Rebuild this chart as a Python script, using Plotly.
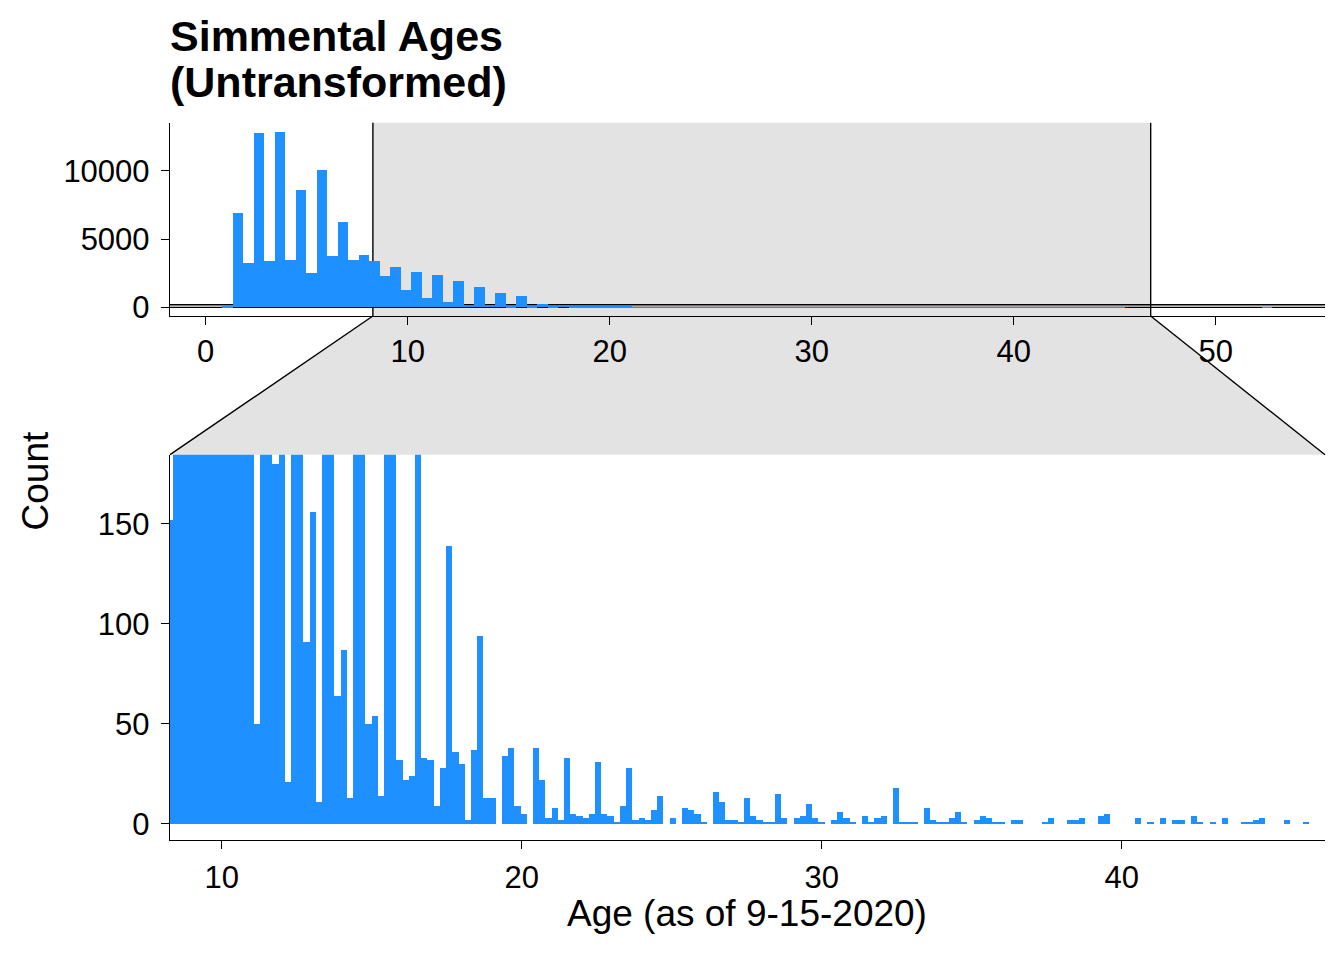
import plotly.graph_objects as go

# ── top panel: whole age range, 100 bins ─────────────────────────
TOP_START = 0.817      # left edge of first bin (years)
TOP_BW = 0.5198
TOP_COUNTS = [
    30, 6960, 3240, 12800, 3380, 12880, 3455, 8640, 2510, 10100,
    3770, 6230, 3455, 3845, 3380, 2290, 2944, 1265, 2580, 681,
    2360, 390, 1922, 200, 1484, 150, 1046, 110, 827, 80,
    243, 70, 170, 60, 97, 55, 40, 35, 30, 25,
    20, 12, 10, 15, 12, 15, 8, 22, 10, 12,
    10, 15, 8, 8, 20, 5, 8, 6, 10, 4,
    5, 5, 4, 3, 3, 2, 3, 5, 2, 3,
    2, 7, 3, 3, 2, 2, 1, 3, 3, 2,
    1, 5, 2, 1, 3, 1, 0, 0, 0, 0,
    0, 0, 0, 0, 0, 0, 0, 0, 0, 1,
]

# ── zoom panel: finer bins ───────────────────────────────────────
ZOOM_START = 8.1704
ZOOM_BW = 0.2069
ZOOM_COUNTS = [
    152, 1300, 600, 500, 800, 1300, 1300, 500, 300, 450,
    1200, 1200, 300, 250,
    50, 1050, 1050, 180, 400, 21, 890, 890, 91, 156,
    11, 675, 675, 64, 87, 13, 475, 475, 50, 54,
    14, 370, 370, 32, 22, 24, 200, 33, 32, 9,
    28, 139, 36, 30, 2, 37, 94, 13, 13, 0,
    34, 38, 9, 5, 0, 38, 22, 3, 8, 2,
    33, 5, 4, 3, 5, 31, 5, 4, 1, 9,
    28, 2, 3, 2, 7, 14, 0, 3, 0, 8,
    7, 5, 1, 0, 16, 11, 2, 2, 1, 13,
    4, 2, 1, 1, 15, 3, 0, 3, 4, 10,
    3, 1, 0, 2, 6, 3, 1, 0, 4, 1,
    3, 4, 0, 18, 1, 1, 1, 0, 8, 2,
    1, 1, 3, 6, 1, 0, 2, 4, 3, 1,
    1, 0, 2, 2, 0, 0, 0, 1, 3, 0,
    0, 2, 2, 3, 0, 0, 4, 5, 0, 0,
    0, 0, 3, 0, 1, 0, 3, 0, 2, 2,
    0, 4, 1, 0, 1, 0, 3, 0, 0, 1,
    1, 2, 3, 0, 0, 0, 2, 0, 0, 1,
    0, 0, 0,
]

TOP_XTICKS = [0, 10, 20, 30, 40, 50]
TOP_YTICKS = [0, 5000, 10000]
ZOOM_XTICKS = [10, 20, 30, 40]
ZOOM_YTICKS = [0, 50, 100, 150]

ZOOM_X = [8.277, 46.78]
ZOOM_Y = [-8.07, 184.5]
TOP_XRANGE = [-1.767, 55.41]
TOP_YRANGE = [-644, 13524]

W, H = 1344, 960
BLUE = '#1E90FF'
GREY = '#E3E3E3'
FONT = 'Liberation Sans, Arial, sans-serif'

# domains (paper fractions)
X_DOM = [170 / W, 1325 / W]
TOP_DOM = [1 - 319 / H, 1 - 124 / H]
ZOOM_DOM = [1 - 848 / H, 1 - 459 / H]


def to_paper(v, rng, dom):
    return dom[0] + (v - rng[0]) / (rng[1] - rng[0]) * (dom[1] - dom[0])


top_x = [TOP_START + TOP_BW * (i + 0.5) for i in range(len(TOP_COUNTS))]
zoom_x = [ZOOM_START + ZOOM_BW * (i + 0.5) for i in range(len(ZOOM_COUNTS))]

fig = go.Figure()
fig.add_trace(go.Bar(
    x=top_x, y=TOP_COUNTS, width=TOP_BW,
    marker=dict(color=BLUE, line=dict(width=0)),
    xaxis='x', yaxis='y', showlegend=False,
))
fig.add_trace(go.Bar(
    x=zoom_x, y=ZOOM_COUNTS, width=ZOOM_BW,
    marker=dict(color=BLUE, line=dict(width=0)),
    xaxis='x2', yaxis='y2', showlegend=False,
))

axis_common = dict(
    showgrid=False, zeroline=False, showline=True,
    linecolor='black', linewidth=1.4,
    ticks='outside', ticklen=8, tickwidth=1.4, tickcolor='black',
    tickfont=dict(family=FONT, size=31, color='black'),
    tickformat='d', fixedrange=True,
)

# ── zoom indicator ───────────────────────────────────────────────
shapes = []
# x band in top panel
shapes.append(dict(type='rect', xref='x', yref='y domain',
                   x0=ZOOM_X[0], x1=ZOOM_X[1], y0=0, y1=1,
                   fillcolor=GREY, line=dict(width=0), layer='below'))
for xv in ZOOM_X:
    shapes.append(dict(type='line', xref='x', yref='y domain',
                       x0=xv, x1=xv, y0=0, y1=1,
                       line=dict(color='black', width=1.4), layer='below'))
# y band in top panel
for yv in ZOOM_Y:
    shapes.append(dict(type='line', xref='x domain', yref='y',
                       x0=0, x1=1, y0=yv, y1=yv,
                       line=dict(color='black', width=1.4), layer='below'))

# connector between panels
tl = to_paper(ZOOM_X[0], TOP_XRANGE, X_DOM)
tr = to_paper(ZOOM_X[1], TOP_XRANGE, X_DOM)
ty = TOP_DOM[0]
bl, br, by = X_DOM[0], X_DOM[1], ZOOM_DOM[1]
shapes.append(dict(type='path', xref='paper', yref='paper',
                   path=f'M {tl},{ty} L {tr},{ty} L {br},{by} L {bl},{by} Z',
                   fillcolor=GREY, line=dict(width=0), layer='below'))
shapes.append(dict(type='line', xref='paper', yref='paper',
                   x0=tl, y0=ty, x1=bl, y1=by,
                   line=dict(color='black', width=1.4), layer='below'))
shapes.append(dict(type='line', xref='paper', yref='paper',
                   x0=tr, y0=ty, x1=br, y1=by,
                   line=dict(color='black', width=1.4), layer='below'))

annotations = [
    dict(text='<b>Simmental Ages</b>', xref='paper', yref='paper',
         x=168 / W, y=1 - 36 / H, xanchor='left', yanchor='middle',
         showarrow=False, font=dict(family=FONT, size=43, color='black')),
    dict(text='<b>(Untransformed)</b>', xref='paper', yref='paper',
         x=168 / W, y=1 - 83 / H, xanchor='left', yanchor='middle',
         showarrow=False, font=dict(family=FONT, size=43, color='black')),
    dict(text='Count', xref='paper', yref='paper',
         x=35 / W, y=1 - 486 / H, xanchor='center', yanchor='middle',
         textangle=-90, showarrow=False,
         font=dict(family=FONT, size=37, color='black')),
    dict(text='Age (as of 9-15-2020)', xref='paper', yref='paper',
         x=747 / W, y=1 - 922 / H, xanchor='center', yanchor='middle',
         showarrow=False, font=dict(family=FONT, size=37, color='black')),
]

fig.update_layout(
    width=W, height=H,
    margin=dict(l=0, r=0, t=0, b=0),
    paper_bgcolor='white', plot_bgcolor='rgba(0,0,0,0)',
    bargap=0, showlegend=False,
    xaxis=dict(axis_common, domain=X_DOM, range=TOP_XRANGE, anchor='y',
               tickvals=TOP_XTICKS, ticklabelstandoff=0),
    yaxis=dict(axis_common, domain=TOP_DOM, range=TOP_YRANGE, anchor='x',
               tickvals=TOP_YTICKS, ticklabelstandoff=5),
    xaxis2=dict(axis_common, domain=X_DOM, range=ZOOM_X, anchor='y2',
                tickvals=ZOOM_XTICKS, ticklabelstandoff=2),
    yaxis2=dict(axis_common, domain=ZOOM_DOM, range=ZOOM_Y, anchor='x2',
                tickvals=ZOOM_YTICKS, ticklabelstandoff=5),
    shapes=shapes,
    annotations=annotations,
)

fig.write_html(
    'out.html',
    config={'displayModeBar': False},
    post_script="document.body.style.margin='0';",
)
